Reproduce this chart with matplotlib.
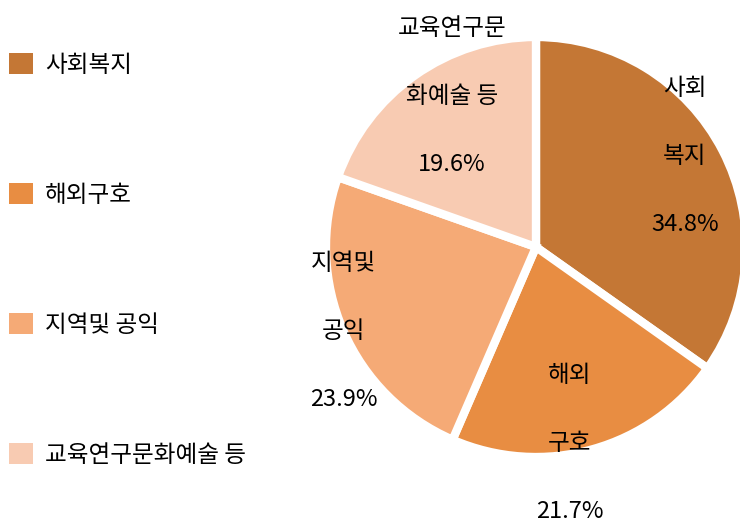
import numpy as np
import matplotlib
matplotlib.use("Agg")
import matplotlib.pyplot as plt
from matplotlib.patches import Patch

plt.rcParams['font.family'] = ['Noto Sans CJK KR', 'DejaVu Sans']

categories = ['사회복지', '해외구호', '지역및 공익', '교육연구문화예술 등']
values = [34.8, 21.7, 23.9, 19.6]
slice_labels = ['사회\n복지\n34.8%', '해외\n구호\n21.7%', '지역및\n공익\n23.9%', '교육연구문\n화예술 등\n19.6%']
colors = ['#C47735', '#E88D42', '#F5AA76', '#F8CBB2']
label_dist = [0.83, 0.95, 1.0, 0.82]
label_angle_shift = [4, -6, 0, -6]

fig = plt.figure(figsize=(7.4, 5.27), dpi=100)
ax = fig.add_axes([0.4405, 0.1328, 0.5676, 0.797])
wedges, _ = ax.pie(values, colors=colors, startangle=90, counterclock=False,
                   wedgeprops=dict(edgecolor='white', linewidth=6))
for w in wedges:
    w.set_clip_on(False)
ax.set_xlim(-1, 1)
ax.set_ylim(-1, 1)
ax.set_aspect('equal')
ax.axis('off')

fr = np.array(values) / np.sum(values)
cum = np.concatenate([[0], np.cumsum(fr)])
for i, lab in enumerate(slice_labels):
    mid = np.deg2rad(90 - 360 * (cum[i] + cum[i + 1]) / 2 + label_angle_shift[i])
    x = label_dist[i] * np.cos(mid)
    y = label_dist[i] * np.sin(mid)
    ax.text(x, y, lab, ha='center', va='center', fontsize=17, linespacing=3.5,
            color='black', clip_on=False)

handles = [Patch(facecolor=c, edgecolor='none') for c in colors]
fig.legend(handles, categories, loc='upper left', bbox_to_anchor=(0.0, 0.917),
           frameon=False, fontsize=17, labelspacing=4.5, handlelength=1.0,
           handleheight=1.0, handletextpad=0.5, borderaxespad=0.0)

fig.savefig('out.png', dpi=100)
